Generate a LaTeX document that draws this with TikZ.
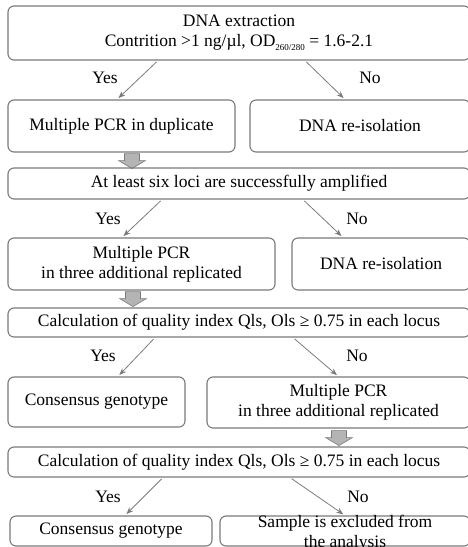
\documentclass[tikz,border=0pt]{standalone}
\usepackage{fontspec}
\setmainfont{Liberation Serif}
\usetikzlibrary{calc,arrows.meta}
\definecolor{boxgray}{HTML}{7A7A7A}
\definecolor{linegray}{HTML}{7C7C7C}
\definecolor{arrowfill}{HTML}{B4B4B4}
\tikzset{
  box/.style={draw=boxgray, line width=1.1pt, rounded corners=6pt, inner sep=0pt,
    align=center, font=\fontsize{17.5}{20}\selectfont},
  flow/.style={draw=linegray, line width=0.8pt, shorten <=2pt, shorten >=2pt,
    -{Stealth[length=7pt,width=5.5pt]}},
  lab/.style={font=\fontsize{17.5}{20}\selectfont, inner sep=0pt},
  blockarrow/.pic={
    \draw[draw=boxgray, fill=arrowfill, line width=0.6pt]
      (-7.5,0) -- (7.5,0) -- (7.5,7) -- (13.5,7) -- (0,15) -- (-13.5,7) -- (-7.5,7) -- cycle;
  }
}
\begin{document}
\begin{tikzpicture}[x=1pt,y=-1pt]
\useasboundingbox (0,0) rectangle (468,547);
\clip (0,0) rectangle (468,547);

% first stage
\node[box, minimum width=462, minimum height=54] (b1) at (239,33)
  {DNA extraction\\Contrition >1 ng/µl, OD\raisebox{-3.5pt}{\fontsize{9}{9}\selectfont 260/280} = 1.6-2.1};
\node[box, minimum width=227, minimum height=52] (b2L) at (121.5,126) {Multiple PCR in duplicate};
\node[box, minimum width=220, minimum height=52] (b2R) at (360,126) {DNA re-isolation};
\draw[flow] ($(b1.south)+(-81,0)$) -- ($(b2L.north)+(-4.5,0)$);
\draw[flow] ($(b1.south)+(66,0)$) -- ($(b2R.north)+(-15,0)$);
\node[lab] (y1) at (105,78) {Yes};
\node[lab] (n1) at (370,78) {No};
\pic at ($(b2L.south)+(10.5,1)$) {blockarrow};

% second stage
\node[box, minimum width=462, minimum height=31] (b3) at (239,183.5)
  {At least six loci are successfully amplified};
\node[box, minimum width=267, minimum height=52] (b4L) at (141.5,264)
  {Multiple PCR\\in three additional replicated};
\node[box, minimum width=178, minimum height=52] (b4R) at (381,264) {DNA re-isolation};
\draw[flow] ($(b3.south)+(-77,0)$) -- ($(b4L.north)+(-19.5,0)$);
\draw[flow] ($(b3.south)+(64,0)$) -- ($(b4R.north)+(-38,0)$);
\node[lab] (y2) at (108,219) {Yes};
\node[lab] (n2) at (357,219) {No};
\pic at ($(b4L.south)+(-8.5,1)$) {blockarrow};

% third stage
\node[box, minimum width=462, minimum height=29] (b5) at (239,322.5)
  {Calculation of quality index Qls, Ols ≥ 0.75 in each locus};
\node[box, minimum width=177, minimum height=50] (b6L) at (96.5,402) {Consensus genotype};
\node[box, minimum width=263, minimum height=51] (b6R) at (338.5,402.5)
  {Multiple PCR\\in three additional replicated};
\draw[flow] ($(b5.south)+(-84,0)$) -- ($(b6L.north)+(21.5,0)$);
\draw[flow] ($(b5.south)+(54,0)$) -- ($(b6R.north)+(0,0)$);
\node[lab] (y3) at (103,356) {Yes};
\node[lab] (n3) at (357,356) {No};
\pic at ($(b6R.south)+(0.5,2)$) {blockarrow};

% fourth stage
\node[box, minimum width=462, minimum height=30] (b7) at (239,462)
  {Calculation of quality index Qls, Ols ≥ 0.75 in each locus};
\node[box, minimum width=202, minimum height=30] (b8L) at (111,531) {Consensus genotype};
\node[box, minimum width=250, minimum height=30] (b8R) at (345,531) {};
\node[lab, align=center] (b8Rt) at (345,533) {Sample is excluded from\\the analysis};
\draw[flow] ($(b7.south)+(-76,0)$) -- ($(b8L.north)+(14,0)$);
\draw[flow] ($(b7.south)+(51,0)$) -- ($(b8R.north)+(0,0)$);
\node[lab] (y4) at (108,497) {Yes};
\node[lab] (n4) at (358,497) {No};
\end{tikzpicture}
\end{document}
